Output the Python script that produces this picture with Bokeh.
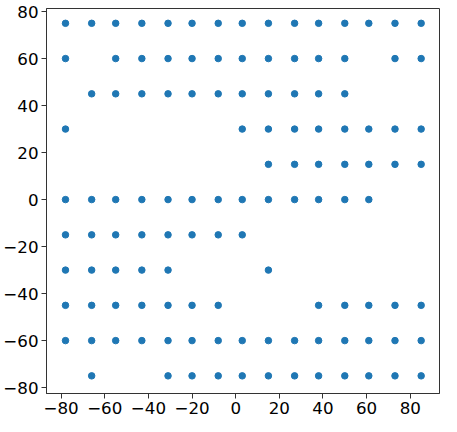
from bokeh.plotting import figure
from bokeh.models import Range1d, FixedTicker
from bokeh.embed import file_html
from bokeh.resources import INLINE

# grid column x-values and row y-values
col_x = [-78, -66, -55, -43, -31, -20, -8, 3, 15, 27, 38, 50, 61, 73, 85]
row_y = [75, 60, 45, 30, 15, 0, -15, -30, -45, -60, -75]
# which columns are present in each row
row_cols = [
    list(range(15)),
    [0, 2, 3, 4, 5, 6, 7, 8, 9, 10, 11, 13, 14],
    list(range(1, 12)),
    [0, 7, 8, 9, 10, 11, 12, 13, 14],
    list(range(8, 15)),
    list(range(0, 13)),
    list(range(0, 8)),
    [0, 1, 2, 3, 4, 8],
    [0, 1, 2, 3, 4, 5, 6, 10, 11, 12, 13, 14],
    list(range(15)),
    [1, 4, 5, 6, 7, 8, 9, 10, 11, 12, 13, 14],
]
tick_vals = [-80, -60, -40, -20, 0, 20, 40, 60, 80]

xs, ys = [], []
for yv, cols in zip(row_y, row_cols):
    for c in cols:
        xs.append(col_x[c])
        ys.append(yv)

p = figure(width=441, height=416, output_backend="svg", toolbar_location=None,
           x_range=Range1d(-86.7, 93.4), y_range=Range1d(-82.5, 81.3),
           min_border_right=2, min_border_top=8, min_border_left=0, min_border_bottom=0)
p.scatter(xs, ys, size=6.5, color="#1f77b4", line_color="#1f77b4")

p.xgrid.visible = False
p.ygrid.visible = False
p.outline_line_color = "#333333"
p.outline_line_width = 1
overrides = {v: (str(v).replace("-", "\u2212")) for v in tick_vals}
for ax in (p.xaxis[0], p.yaxis[0]):
    ax.ticker = FixedTicker(ticks=tick_vals)
    ax.major_label_overrides = overrides
    ax.major_label_text_font = "DejaVu Sans"
    ax.major_label_text_font_size = "16.7px"
    ax.major_label_text_color = "black"
    ax.major_tick_in = 0
    ax.major_tick_out = 5
    ax.minor_tick_line_color = None
    ax.axis_line_color = "#333333"
    ax.major_tick_line_color = "#333333"
    ax.major_label_standoff = 3
p.background_fill_color = "white"
p.border_fill_color = "white"

open("out.html", "w").write(file_html(p, INLINE))
